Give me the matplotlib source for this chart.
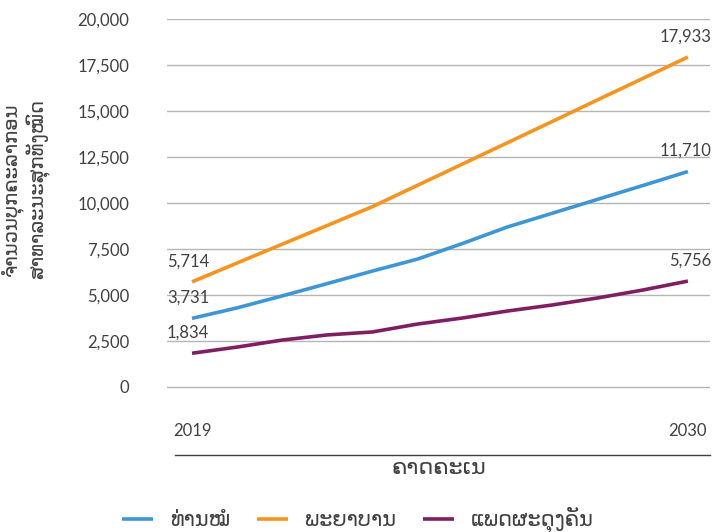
import numpy as np
import matplotlib.pyplot as plt
from matplotlib.ticker import FuncFormatter

# Data
years = [2019, 2020, 2021, 2022, 2023, 2024, 2025, 2026, 2027, 2028, 2029, 2030]
doctors = [3731, 4300, 4950, 5620, 6300, 6950, 7800, 8700, 9450, 10200, 10950, 11710]
nurses = [5714, 6740, 7760, 8780, 9800, 10960, 12120, 13280, 14440, 15610, 16770, 17933]
midwives = [1834, 2170, 2550, 2830, 2990, 3420, 3750, 4130, 4460, 4840, 5270, 5756]

series_names = ["ທ່ານໝໍ", "ພະຍາບານ", "ແພດຜະດຸງຄັນ"]
series_colors = ["#3F96D6", "#F7941D", "#7F1F63"]
y_ticks = [0, 2500, 5000, 7500, 10000, 12500, 15000, 17500, 20000]
x_tick_labels = [2019, 2030]
y_label = "ຈຳນວນບຸກຄະລາກອນ\nສາທາລະນະສຸກທັງໝົດ"
x_label = "ຄາດຄະເນ"

text_color = "#404040"
fonts = ["Lato", "DejaVu Sans"]
plt.rcParams['font.family'] = fonts

fig = plt.figure(figsize=(7.26, 5.32), dpi=100)
W, H = 726, 532
left, right, top, bottom = 167, 710, 19, 455
ax = fig.add_axes([left / W, 1 - bottom / H, (right - left) / W, (bottom - top) / H])

lines = []
for vals, name, col in zip([doctors, nurses, midwives], series_names, series_colors):
    ln, = ax.plot(years, vals, color=col, lw=2.6, label=name, solid_capstyle='butt')
    lines.append(ln)

# start / end value labels
for vals in [doctors, nurses, midwives]:
    ax.annotate(f"{vals[0]:,}", (years[0], vals[0]), xytext=(-18, 9), textcoords='offset points',
                ha='left', va='bottom', fontsize=12, color=text_color)
    ax.annotate(f"{vals[-1]:,}", (years[-1], vals[-1]), xytext=(17, 9), textcoords='offset points',
                ha='right', va='bottom', fontsize=12, color=text_color)

ax.set_xlim(2018.445, 2030.49)
ax.set_ylim(-3696, 20000)
ax.set_yticks(y_ticks)
ax.yaxis.set_major_formatter(FuncFormatter(lambda v, p: f"{int(v):,}"))
ax.set_xticks(x_tick_labels)
ax.tick_params(axis='y', length=0, pad=27, labelsize=12, labelcolor=text_color)
ax.tick_params(axis='x', length=0, pad=-23, labelsize=12, labelcolor=text_color)

ax.grid(axis='y', color='#b5b5b5', lw=1)
ax.set_axisbelow(True)
for s in ['top', 'right', 'left']:
    ax.spines[s].set_visible(False)
ax.spines['bottom'].set_color('#404040')
ax.spines['bottom'].set_linewidth(1)
ax.spines['bottom'].set_bounds(2018.62, 2030.49)

ax.set_ylabel(y_label, fontsize=14, color=text_color, linespacing=1.15)
ax.yaxis.set_label_coords(-0.215, 0.61)
ax.set_xlabel(x_label, fontsize=16, color=text_color, labelpad=2)

fig.legend(handles=lines, loc='center', bbox_to_anchor=(0.493, 0.022), ncol=3, frameon=False,
           fontsize=15, handlelength=1.5, columnspacing=1.3, handletextpad=0.8,
           labelcolor=text_color)

fig.savefig("out.png", dpi=100)
